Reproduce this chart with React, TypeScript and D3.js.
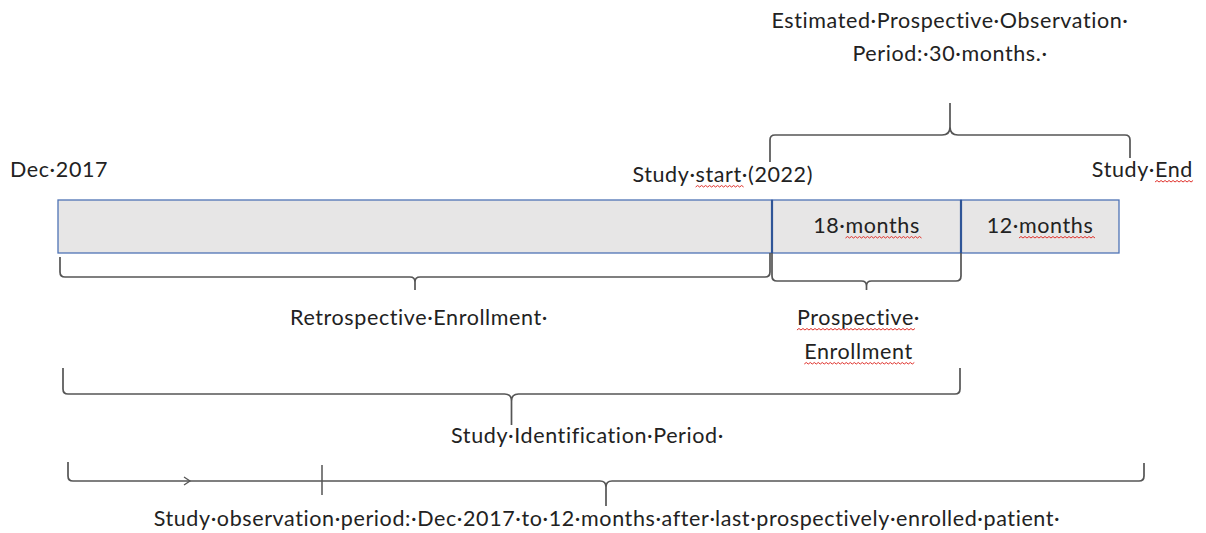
import * as d3 from 'd3';
import React, { useEffect, useRef } from 'react';

// milestones along the timeline, left to right
const milestones = ['Dec·2017', 'Study·start·(2022)', 'End of enrollment', 'Study·End'];
const milestoneLabels = ['Dec·2017', 'Study·start·(2022)', '', 'Study·End'];

// bar segments between consecutive milestones
const segmentLabels = ['', '18·months', '12·months'];

// braces (from / to are milestone indexes)
const braceFrom = [1, 0, 1, 0, 0];
const braceTo = [3, 1, 2, 2, 3];
const braceLabels = [
    ['Estimated·Prospective·Observation·', 'Period:·30·months.·'],
    ['Retrospective·Enrollment·'],
    ['Prospective·', 'Enrollment'],
    ['Study·Identification·Period·'],
    ['Study·observation·period:·Dec·2017·to·12·months·after·last·prospectively·enrolled·patient·'],
];

// words flagged by the spell checker (red wavy underline)
const flaggedText = ['Study·start·(2022)', 'Study·End', '18·months', '12·months', 'Prospective·', 'Enrollment'];
const flaggedWord = ['start', 'End', 'months', 'months', 'Prospective', 'Enrollment'];

const W = 1206;
const H = 533;
const FONT = "Lato, 'Open Sans', sans-serif";
const FS = 21.5;
const TEXT = '#222';
const LINE = '#555';

// per-brace layout: tip direction, y of horizontal line, leg ends, tip, x nudges, label placing
const braceLayout = [
    { dir: -1, lineY: 135, legL: 162, legR: 158, tip: 103, dx0: -2, dx1: 11, c: 8, labelDx: 0, labelY: [28, 61] },
    { dir: 1, lineY: 277, legL: 257, legR: 253, tip: 290, dx0: 2, dx1: -2, c: 5, labelDx: 4, labelY: [325] },
    { dir: 1, lineY: 281, legL: 253, legR: 253, tip: 290, dx0: 0, dx1: 0, c: 5, labelDx: -8, labelY: [325, 359] },
    { dir: 1, lineY: 394, legL: 368, legR: 368, tip: 425, dx0: 5, dx1: -1, c: 7, labelDx: 76, labelY: [443] },
    { dir: 1, lineY: 481, legL: 462, legR: 463, tip: 506, dx0: 10, dx1: 25, c: 6, labelDx: 1, labelY: [526] },
];

function bracePath(x0: number, x1: number, b: typeof braceLayout[number]) {
    const s = b.dir;
    const r = 5;
    const xm = (x0 + x1) / 2;
    const p = d3.path();
    p.moveTo(x0, b.legL);
    p.lineTo(x0, b.lineY - s * r);
    p.quadraticCurveTo(x0, b.lineY, x0 + r, b.lineY);
    p.lineTo(xm - b.c, b.lineY);
    p.quadraticCurveTo(xm, b.lineY, xm, b.lineY + s * b.c);
    p.lineTo(xm, b.tip);
    p.moveTo(xm, b.lineY + s * b.c);
    p.quadraticCurveTo(xm, b.lineY, xm + b.c, b.lineY);
    p.lineTo(x1 - r, b.lineY);
    p.quadraticCurveTo(x1, b.lineY, x1, b.lineY - s * r);
    p.lineTo(x1, b.legR);
    return p.toString();
}

const Timeline: React.FC = () => {
    const svgRef = useRef<SVGSVGElement | null>(null);

    useEffect(() => {
        const svg = d3.select(svgRef.current);
        svg.selectAll('*').remove();

        const x = d3.scaleLinear()
            .domain(d3.range(milestones.length))
            .range([58, 772, 961, 1119]);

        svg.append('rect').attr('width', W).attr('height', H).attr('fill', '#fff');

        const barTop = 200;
        const barH = 53;

        // bar segments
        svg.selectAll('rect.seg')
            .data(segmentLabels)
            .enter()
            .append('rect')
            .attr('class', 'seg')
            .attr('x', (_, i) => x(i))
            .attr('y', barTop)
            .attr('width', (_, i) => x(i + 1) - x(i))
            .attr('height', barH)
            .attr('fill', '#e7e6e6')
            .attr('stroke', '#4f73b5')
            .attr('stroke-width', 1.3);

        // inner dividers
        svg.selectAll('line.div')
            .data([1, 2])
            .enter()
            .append('line')
            .attr('x1', d => x(d))
            .attr('x2', d => x(d))
            .attr('y1', barTop)
            .attr('y2', barTop + barH)
            .attr('stroke', '#2f5597')
            .attr('stroke-width', 2.2);

        const texts: d3.Selection<SVGTextElement, unknown, null, undefined>[] = [];
        const addText = (t: string, tx: number, ty: number, anchor: string) => {
            const el = svg.append('text')
                .attr('x', tx)
                .attr('y', ty)
                .attr('text-anchor', anchor)
                .attr('fill', TEXT)
                .style('font-family', FONT)
                .style('font-size', `${FS}px`)
                .style('letter-spacing', '0.6px')
                .text(t);
            texts.push(el);
        };

        segmentLabels.forEach((t, i) => {
            if (t) addText(t, (x(i) + x(i + 1)) / 2, 233, 'middle');
        });

        // milestone labels
        addText(milestoneLabels[0], x(0) - 48, 177, 'start');
        addText(milestoneLabels[1], x(1) + 41, 182, 'end');
        addText(milestoneLabels[3], x(3) + 74, 177, 'end');

        // braces
        braceLayout.forEach((b, i) => {
            const x0 = x(braceFrom[i]) + b.dx0;
            const x1 = x(braceTo[i]) + b.dx1;
            svg.append('path')
                .attr('d', bracePath(x0, x1, b))
                .attr('fill', 'none')
                .attr('stroke', LINE)
                .attr('stroke-width', 1.7);
            braceLabels[i].forEach((t, j) => {
                addText(t, (x0 + x1) / 2 + b.labelDx, b.labelY[j], 'middle');
            });
        });

        // marks on the observation line
        const obs = braceLayout[4];
        svg.append('line')
            .attr('x1', 322).attr('x2', 322)
            .attr('y1', obs.lineY - 16).attr('y2', obs.lineY + 14)
            .attr('stroke', LINE)
            .attr('stroke-width', 1.5);
        svg.append('path')
            .attr('d', `M184,${obs.lineY - 4}L190,${obs.lineY}L184,${obs.lineY + 4}`)
            .attr('fill', 'none')
            .attr('stroke', LINE)
            .attr('stroke-width', 1.3);

        // spell-check squiggles
        texts.forEach(el => {
            const node = el.node();
            if (!node) return;
            const t = node.textContent || '';
            const k = flaggedText.indexOf(t);
            if (k < 0) return;
            const start = t.indexOf(flaggedWord[k]);
            const len = flaggedWord[k].length;
            const sx = node.getStartPositionOfChar(start).x;
            const w = node.getSubStringLength(start, len);
            const by = +el.attr('y') + 5;
            const p = d3.path();
            p.moveTo(sx, by);
            let cx = sx;
            let up = true;
            while (cx < sx + w) {
                cx += 2;
                p.lineTo(cx, by + (up ? -1.5 : 0));
                up = !up;
            }
            svg.append('path')
                .attr('d', p.toString())
                .attr('fill', 'none')
                .attr('stroke', '#e0302a')
                .attr('stroke-width', 1);
        });
    }, []);

    return <svg ref={svgRef} width={W} height={H} style={{ position: 'absolute', left: 0, top: 0 }}></svg>;
};

export default function App() {
    return <Timeline />;
}
